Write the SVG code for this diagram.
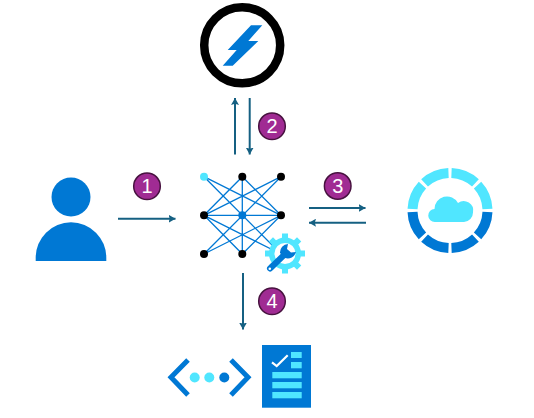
<svg xmlns="http://www.w3.org/2000/svg" width="534" height="418" viewBox="0 0 534 418">
<style>
.conn{stroke:#156082;stroke-width:2;fill:none;marker-end:url(#ah)}
.badge circle{fill:#a02b93;stroke:#47123f;stroke-width:1.5}
.badge text{font-family:"Liberation Sans",Arial,sans-serif;font-size:20px;fill:#fff;text-anchor:middle}
.blue{fill:#0078d4}.cyan{fill:#50e6ff}
.edge{stroke:#0078d4;stroke-width:1.3;fill:none}
.nd{fill:#000}
.seg{fill:none;stroke-width:10}
</style>
<defs>
<marker id="ah" markerUnits="userSpaceOnUse" markerWidth="8" markerHeight="8" refX="7" refY="4" orient="auto"><path d="M0 0L7 4L0 8L1.2 4Z" fill="#156082"/></marker>
</defs>
<rect width="534" height="418" fill="#fff"/>
<g id="connectors">
<line class="conn" x1="118" y1="218.7" x2="175.5" y2="218.7"/>
<line class="conn" x1="235" y1="154.5" x2="235" y2="98"/>
<line class="conn" x1="249.7" y1="98" x2="249.7" y2="154.5"/>
<line class="conn" x1="309" y1="208" x2="365.5" y2="208"/>
<line class="conn" x1="366" y1="222.7" x2="309" y2="222.7"/>
<line class="conn" x1="243" y1="273" x2="243" y2="329.5"/>
</g>
<g id="user" class="blue">
<circle cx="71" cy="197" r="19.5"/>
<path d="M35.7 261V257.6A35.3 35.3 0 0 1 106.3 257.6V261Z"/>
</g>
<g id="bolt-service">
<circle cx="242.2" cy="45.3" r="38" fill="#fff" stroke="#000" stroke-width="8.5"/>
<path class="blue" d="M251 25.3H262.3L248.3 41H258.3L232.7 65.7H222.7L236.7 50H227.7Z"/>
</g>
<g id="network">
<path class="edge" d="M204 176.7L281 254M281 176.7L204 254M204 215.3L242.3 176.7L281 215.3L242.3 254ZM204 215.3L281 176.7M204 215.3L281 254M281 215.3L204 176.7M281 215.3L204 254M204 215.3H281M242.3 176.7V254"/>
<circle cx="204" cy="176.7" r="4" class="cyan"/>
<circle class="nd" cx="242.3" cy="176.7" r="4"/>
<circle class="nd" cx="281" cy="176.7" r="4"/>
<circle class="nd" cx="204" cy="215.3" r="4"/>
<circle class="blue" cx="242.3" cy="215.3" r="4"/>
<circle class="nd" cx="281" cy="215.3" r="4"/>
<circle class="nd" cx="204" cy="254" r="4"/>
<circle class="nd" cx="242.3" cy="254" r="4"/>
<circle class="nd" cx="281" cy="254" r="4"/>
</g>
<g id="gear-wrench">
<circle cx="285" cy="253.5" r="13.3" fill="#fff" stroke="#50e6ff" stroke-width="5.5"/>
<g class="cyan" transform="translate(285 253.5)">
<rect x="-3" y="-20" width="6" height="6"/>
<rect x="-3" y="14" width="6" height="6"/>
<rect x="-20" y="-3" width="6" height="6"/>
<rect x="14" y="-3" width="6" height="6"/>
<rect x="-3" y="-20" width="6" height="6" transform="rotate(45)"/>
<rect x="-3" y="-20" width="6" height="6" transform="rotate(135)"/>
<rect x="-3" y="-20" width="6" height="6" transform="rotate(225)"/>
<rect x="-3" y="-20" width="6" height="6" transform="rotate(315)"/>
</g>
<path d="M270 268.5L284 255" stroke="#0078d4" stroke-width="6" stroke-linecap="round" fill="none"/>
<path class="blue" d="M288 244A8.5 8.5 0 0 0 280 253L285 258A8.5 8.5 0 0 0 296 252L291 252.5L287 249Z"/>
<circle cx="269.8" cy="268.8" r="1.3" fill="#fff"/>
</g>
<g id="cloud-ring" transform="translate(450 210.5)">
<g class="seg" stroke="#50e6ff">
<path d="M-37.47 -1.5A37.5 37.5 0 0 1 -27.56 -25.43"/>
<path d="M-25.43 -27.56A37.5 37.5 0 0 1 -1.5 -37.47"/>
<path d="M1.5 -37.47A37.5 37.5 0 0 1 25.43 -27.56"/>
<path d="M27.56 -25.43A37.5 37.5 0 0 1 37.47 -1.5"/>
</g>
<g class="seg" stroke="#0078d4">
<path d="M37.47 1.5A37.5 37.5 0 0 1 27.56 25.43"/>
<path d="M25.43 27.56A37.5 37.5 0 0 1 1.5 37.47"/>
<path d="M-1.5 37.47A37.5 37.5 0 0 1 -25.43 27.56"/>
<path d="M-27.56 25.43A37.5 37.5 0 0 1 -37.47 1.5"/>
</g>
<path class="cyan" d="M-15 11.5A6.5 6.5 0 0 1 -15.5 -1.5A12.5 12.5 0 0 1 8 -7.5A9.5 9.5 0 0 1 23 2A9.5 9.5 0 0 1 14 11.5Z"/>
</g>
<g id="code-icon">
<path d="M188 360L171 377.3L188 395M231 360L248 377.3L231 395" fill="none" stroke="#0078d4" stroke-width="5"/>
<circle class="cyan" cx="194.7" cy="377.5" r="5"/>
<circle class="cyan" cx="209.3" cy="377.5" r="5"/>
<circle class="blue" cx="224.3" cy="377.5" r="5"/>
</g>
<g id="checklist">
<rect class="blue" x="262" y="345" width="49" height="62.7"/>
<g class="cyan">
<rect x="291" y="352" width="10.7" height="6"/>
<rect x="291" y="362" width="10.7" height="6.3"/>
<rect x="272.3" y="372" width="29.4" height="6.3"/>
<rect x="272.3" y="382" width="29.4" height="6.3"/>
<rect x="272.3" y="392" width="29.4" height="6.3"/>
</g>
<path d="M272 362.3L276.7 366L287.7 355.3" fill="none" stroke="#fff" stroke-width="2.2"/>
</g>
<g id="badge-1" class="badge"><circle cx="147" cy="186.3" r="13.3"/><text x="147" y="193.3">1</text></g>
<g id="badge-2" class="badge"><circle cx="272" cy="126.3" r="13.3"/><text x="272" y="133.3">2</text></g>
<g id="badge-3" class="badge"><circle cx="337.7" cy="186" r="13.3"/><text x="337.7" y="193">3</text></g>
<g id="badge-4" class="badge"><circle cx="272" cy="301.3" r="13.3"/><text x="272" y="308.3">4</text></g>
</svg>
